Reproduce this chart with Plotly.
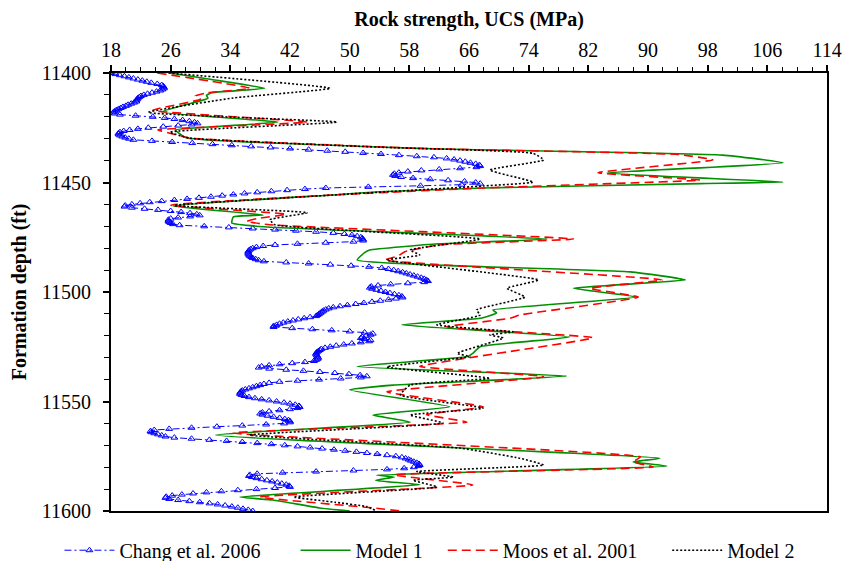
import plotly.graph_objects as go

# ---------------- data ----------------
# Chang et al. 2006 : sampled every 0.5 ft from 11400 to 11600 ft
chang_start = 11400.0
chang_step = 0.5
chang_ucs = [
    18.0, 18.6, 19.2, 19.8, 20.4, 21.0, 21.6, 22.2, 22.8, 23.4,
    24.2, 24.8, 25.0, 25.1, 25.1, 24.9, 24.6, 24.1, 23.5, 22.9,
    22.4, 22.0, 21.8, 21.6, 21.5, 21.4, 21.4, 21.1, 20.7, 20.3,
    20.0, 19.6, 19.3, 19.0, 18.7, 18.5, 18.3, 18.5, 19.2, 21.3,
    23.6, 25.2, 26.5, 27.6, 28.5, 29.2, 29.6, 28.8, 27.0, 25.0,
    23.0, 21.6, 20.5, 19.7, 19.2, 19.0, 19.0, 19.2, 19.5, 19.9,
    20.4, 21.0, 23.5, 26.2, 28.9, 31.6, 34.2, 36.8, 39.4, 42.0,
    44.5, 47.0, 49.4, 51.8, 54.2, 56.6, 59.0, 61.3, 63.0, 64.0,
    64.8, 65.5, 66.2, 66.9, 67.4, 67.5, 67.0, 64.8, 62.0, 59.6,
    57.8, 56.6, 56.0, 55.8, 56.1, 56.9, 58.5, 60.8, 63.2, 65.4,
    66.9, 67.5, 65.0, 59.5, 52.5, 46.8, 44.0, 41.6, 39.5, 37.6,
    35.9, 34.4, 32.9, 31.4, 29.8, 28.2, 26.5, 24.8, 23.2, 21.9,
    20.8, 19.9, 19.8, 20.8, 22.5, 24.3, 26.0, 27.4, 28.6, 29.5,
    29.9, 28.6, 27.0, 26.0, 25.7, 25.7, 25.8, 26.0, 26.3, 27.2,
    30.5, 33.8, 37.0, 40.0, 42.8, 45.5, 47.8, 49.3, 50.3, 51.0,
    51.5, 51.7, 51.8, 51.8, 50.5, 46.8, 43.0, 40.0, 38.4, 37.5,
    37.0, 36.7, 36.5, 36.4, 36.4, 36.4, 36.5, 36.6, 36.8, 37.0,
    37.4, 37.8, 38.5, 41.5, 44.5, 47.4, 50.2, 52.6, 54.3, 55.2,
    55.9, 56.5, 57.1, 57.6, 58.1, 58.6, 59.1, 59.6, 60.0, 60.3,
    60.5, 60.0, 57.8, 55.5, 53.8, 52.9, 52.7, 53.0, 53.6, 54.2,
    54.8, 55.4, 56.0, 56.6, 57.0, 57.1, 56.2, 55.2, 54.1, 53.0,
    51.9, 50.8, 49.7, 48.7, 47.8, 47.2, 46.8, 46.5, 46.3, 46.1,
    45.9, 45.7, 45.5, 44.7, 43.9, 43.1, 42.4, 41.7, 41.1, 40.6,
    40.2, 39.8, 39.8, 42.3, 45.0, 47.6, 50.0, 52.0, 53.1, 52.8,
    52.2, 51.7, 51.5, 52.0, 52.8, 52.6, 51.5, 50.3, 49.2, 48.2,
    47.4, 46.7, 46.2, 46.0, 45.8, 45.6, 45.5, 45.5, 45.6, 45.7,
    45.8, 45.7, 45.5, 45.2, 44.0, 42.3, 40.6, 39.2, 38.2, 37.8,
    39.2, 41.5, 43.8, 46.0, 48.0, 49.9, 51.4, 52.3, 51.5, 48.8,
    45.9, 43.0, 40.6, 39.2, 38.5, 38.0, 37.5, 37.0, 36.5, 36.0,
    35.6, 35.4, 35.3, 35.3, 35.5, 35.9, 36.5, 37.3, 38.2, 39.2,
    40.2, 41.2, 42.0, 42.7, 43.2, 43.3, 43.0, 42.0, 40.6, 39.2,
    38.3, 38.0, 38.3, 39.0, 39.8, 40.6, 41.3, 41.8, 42.0, 42.0,
    41.2, 38.8, 35.6, 32.2, 28.8, 25.8, 23.8, 23.3, 23.4, 23.8,
    24.3, 24.8, 25.3, 26.5, 28.8, 31.2, 33.5, 35.6, 37.6, 39.5,
    41.3, 43.0, 44.7, 46.3, 47.9, 49.4, 50.9, 52.3, 53.7, 55.0,
    56.2, 57.0, 57.5, 57.9, 58.2, 58.6, 59.0, 59.3, 59.4, 59.2,
    58.6, 57.3, 55.0, 50.5, 45.5, 41.0, 37.6, 36.6, 36.5, 36.9,
    37.5, 38.2, 38.9, 39.6, 40.3, 40.9, 41.5, 41.9, 42.0, 40.0,
    37.5, 35.0, 32.8, 30.8, 29.0, 27.5, 26.2, 25.4, 25.3, 25.8,
    27.0, 28.5, 29.9, 31.2, 32.3, 33.3, 34.2, 35.0, 35.7, 36.4,
    37.0,
]
chang_depth = [chang_start + i * chang_step for i in range(len(chang_ucs))]

model1_depth = [11400, 11403, 11407, 11409, 11410.2, 11411.5, 11412.5, 11417.8, 11422.4,
                11426, 11427.2, 11429.7, 11434.5, 11437.5, 11441, 11445.7, 11449.8,
                11450.5, 11452.5, 11454.2, 11455.7, 11460.7, 11464.8, 11465.7, 11468.5,
                11470.3, 11475.8, 11478, 11480.8, 11482, 11485.4, 11490.8, 11494.5,
                11498.3, 11502.3, 11508.2, 11509.6, 11512, 11515, 11520.5, 11525, 11528,
                11529.5, 11534, 11538.4, 11542.5, 11544.7, 11552.4, 11556.2, 11559.4,
                11565.3, 11575.9, 11577.6, 11579.5, 11583.6, 11584.5, 11586, 11588,
                11593.6, 11595, 11598.6, 11600]
model1_ucs = [25.9, 31.5, 38.6, 31.5, 30.8, 31.0, 30.2, 24.8, 40.4,
              26.6, 27.0, 28.2, 60.0, 100.0, 108.1, 84.5, 108.1,
              97.0, 68.0, 54.0, 47.8, 26.3, 38.4, 34.4, 34.2,
              38.9, 76.5, 62.0, 52.7, 52.0, 51.0, 87.6, 95.0,
              80.0, 88.5, 69.2, 69.7, 67.5, 57.0, 79.5, 67.5, 66.5,
              65.8, 51.0, 79.1, 55.8, 50.0, 63.4, 53.1, 58.1,
              32.0, 91.6, 88.0, 92.5, 53.6, 56.0, 53.5, 59.4,
              35.3, 39.7, 46.0, 50.0]

moos_depth = [11400, 11407, 11409, 11410.5, 11412, 11417, 11422.4, 11426, 11427.5,
              11429.7, 11434.5, 11437.2, 11439.7, 11445.5, 11448.9, 11450.5, 11452.5,
              11455.7, 11460.3, 11464.5, 11466.5, 11467.8, 11469.3, 11475.8, 11478.5,
              11481.6, 11483.5, 11485.4, 11494.5, 11498.3, 11502.3, 11510.5, 11512,
              11515.9, 11520.9, 11526.5, 11529.5, 11534, 11538.7, 11545.6, 11552.4,
              11556, 11559.4, 11564.4, 11575.3, 11577.6, 11579.9, 11583.5, 11588.1,
              11593.6, 11598.6, 11600]
moos_ucs = [24.2, 36.6, 31.0, 29.3, 30.0, 23.6, 44.3, 24.3, 25.9,
            28.5, 60.0, 94.0, 98.7, 83.3, 97.0, 85.0, 68.0,
            47.8, 26.0, 41.5, 37.5, 36.2, 39.3, 80.0, 62.0,
            57.4, 56.5, 54.7, 91.9, 82.2, 88.7, 72.8, 71.5,
            63.0, 82.6, 72.8, 67.0, 59.4, 76.0, 55.0, 67.9,
            60.3, 65.7, 34.4, 89.0, 88.0, 90.7, 56.0, 66.5,
            38.0, 53.1, 56.8]

model2_depth = [11400, 11407, 11411.4, 11418, 11422.4, 11427, 11429.7, 11434, 11436.7,
                11439.7, 11444.3, 11449.8, 11451.6, 11455.7, 11460.5, 11463.8, 11467,
                11469.3, 11475.8, 11480.8, 11483.1, 11485.4, 11494.5, 11498.3, 11502.3,
                11508.2, 11510.5, 11515, 11518.2, 11519.6, 11521, 11528, 11529.5,
                11534.2, 11539.4, 11542.5, 11547, 11553, 11556.2, 11559.8, 11565.3,
                11571.3, 11575.9, 11579, 11582, 11584.5, 11586, 11589, 11593.6, 11596,
                11598, 11600]
model2_ucs = [25.7, 47.4, 34.4, 23.0, 48.3, 25.9, 28.5, 55.0, 74.6,
              76.0, 68.8, 74.6, 67.9, 47.8, 26.5, 44.3, 39.3,
              40.0, 67.5, 58.1, 59.4, 55.0, 75.3, 71.1, 73.5,
              67.0, 67.5, 61.7, 71.9, 68.8, 70.6, 64.4, 66.1,
              55.0, 68.8, 58.1, 56.8, 67.9, 58.1, 62.5, 36.6,
              64.8, 72.8, 76.0, 59.0, 63.9, 58.5, 61.7, 42.5, 48.0,
              52.3, 53.6]

series_names = ["Chang et al. 2006", "Model 1", "Moos et al. 2001", "Model 2"]
x_ticks = [18, 26, 34, 42, 50, 58, 66, 74, 82, 90, 98, 106, 114]
y_ticks = [11400, 11450, 11500, 11550, 11600]

FONT = "Liberation Serif"
NB = "\u00a0"
pads = [6, 3, 5, 0]   # trailing spacing in the legend row

fig = go.Figure()
fig.add_trace(go.Scatter(
    x=chang_ucs, y=chang_depth, mode="lines+markers", name=series_names[0] + NB * pads[0],
    line=dict(color="#0000FF", width=1, dash="7px,3px,2px,3px"),
    marker=dict(symbol="triangle-up-open", size=6, color="#0000FF", line=dict(width=1)),
))
fig.add_trace(go.Scatter(
    x=model1_ucs, y=model1_depth, mode="lines", name=series_names[1] + NB * pads[1],
    line=dict(color="#009000", width=1.6, shape="spline", smoothing=0.4),
))
fig.add_trace(go.Scatter(
    x=moos_ucs, y=moos_depth, mode="lines", name=series_names[2] + NB * pads[2],
    line=dict(color="#FF0000", width=1.6, dash="9px,5px", shape="spline", smoothing=0.4),
))
fig.add_trace(go.Scatter(
    x=model2_ucs, y=model2_depth, mode="lines", name=series_names[3] + NB * pads[3],
    line=dict(color="#000000", width=1.6, dash="2px,2px", shape="spline", smoothing=0.4),
))

fig.update_layout(
    width=856, height=561,
    margin=dict(l=111, r=29, t=73, b=50, autoexpand=False),
    paper_bgcolor="white", plot_bgcolor="white",
    font=dict(family=FONT, size=20, color="black"),
    showlegend=True,
    legend=dict(orientation="h", x=-0.072, xanchor="left", y=-0.045, yanchor="top",
                font=dict(family=FONT, size=20), bgcolor="rgba(0,0,0,0)",
                itemwidth=50, tracegroupgap=0),
)
fig.update_xaxes(
    side="top", range=[18, 114], tickmode="array", tickvals=x_ticks,
    ticktext=[str(v) for v in x_ticks],
    showgrid=False, zeroline=False, showline=True, linecolor="black", linewidth=2,
    mirror=True, ticks="outside", ticklen=6, tickwidth=1.5, tickcolor="black",
    minor=dict(dtick=2, ticks="outside", ticklen=4, tickwidth=1, tickcolor="black"),
    title=dict(text="<b>Rock strength, UCS (MPa)</b>", font=dict(family=FONT, size=20), standoff=7),
    tickfont=dict(family=FONT, size=20),
)
fig.update_yaxes(
    range=[11600, 11400], tickmode="array", tickvals=y_ticks,
    ticktext=[str(v) for v in y_ticks],
    showgrid=False, zeroline=False, showline=True, linecolor="black", linewidth=2,
    mirror=True, ticks="outside", ticklen=6, tickwidth=1.5, tickcolor="black",
    ticklabelstandoff=8,
    minor=dict(dtick=10, ticks="outside", ticklen=5, tickwidth=1, tickcolor="black"),
    title=dict(text="<b>Formation depth (ft)</b>", font=dict(family=FONT, size=20), standoff=10),
    tickfont=dict(family=FONT, size=20),
)

fig.write_html("out.html")
